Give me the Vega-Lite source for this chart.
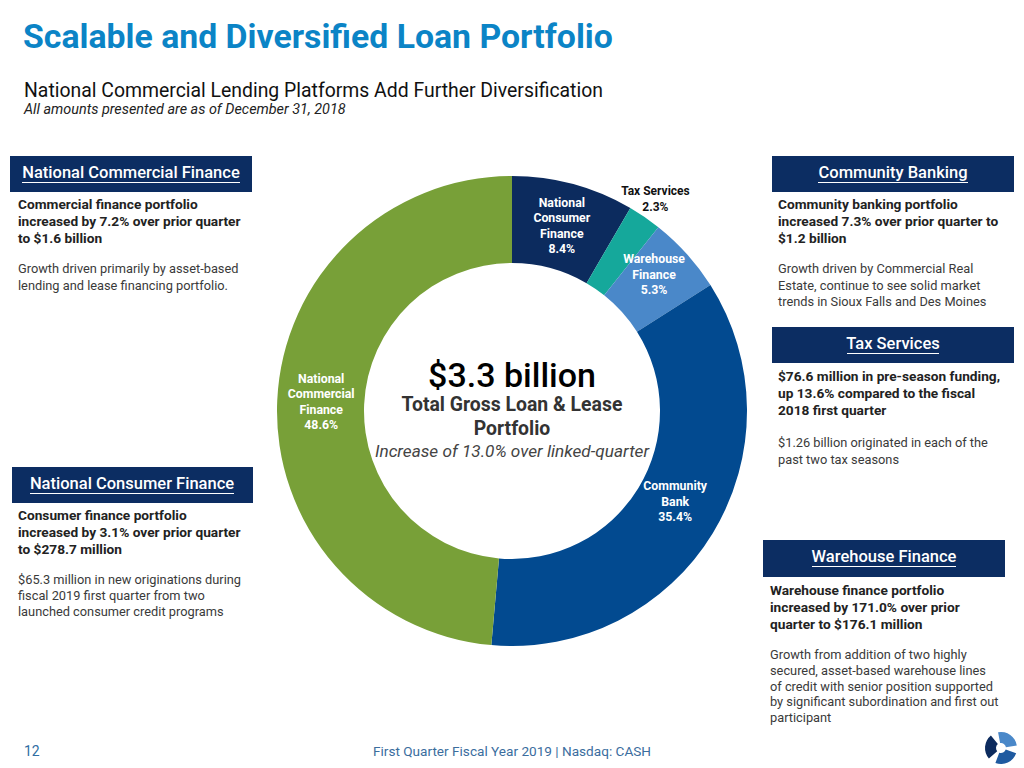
{
  "$schema": "https://vega.github.io/schema/vega-lite/v6.json",
  "width": 1024,
  "height": 768,
  "autosize": {"type": "fit", "contains": "padding"},
  "padding": 0,
  "background": "#ffffff",
  "config": {"font": "Roboto", "view": {"stroke": null}},
  "datasets": {
    "portfolio": [
      {"rank": 1, "segment": "National Consumer Finance", "pct": 8.4, "label": "National\nConsumer\nFinance\n8.4%"},
      {"rank": 2, "segment": "Tax Services", "pct": 2.3, "label": "Tax Services\n2.3%"},
      {"rank": 3, "segment": "Warehouse Finance", "pct": 5.3, "label": "Warehouse\nFinance\n5.3%"},
      {"rank": 4, "segment": "Community Bank", "pct": 35.4, "label": "Community\nBank\n35.4%"},
      {"rank": 5, "segment": "National Commercial Finance", "pct": 48.6, "label": "National\nCommercial\nFinance\n48.6%"}
    ],
    "one": [{}]
  },
  "layer": [
    {"data": {"name": "portfolio"},
     "mark": {"type": "arc", "radius": 235, "radius2": 148, "stroke": null},
     "encoding": {
       "x": {"datum": 512, "type": "quantitative", "scale": {"domain": [0, 1024], "nice": false, "zero": false}, "axis": null},
       "y": {"datum": 411, "type": "quantitative", "scale": {"domain": [0, 768], "nice": false, "zero": false, "reverse": true}, "axis": null},
       "theta": {"field": "pct", "type": "quantitative", "stack": true},
       "order": {"field": "rank", "type": "quantitative"},
       "color": {"field": "segment", "type": "nominal", "legend": null,
         "scale": {"domain": ["National Consumer Finance", "Tax Services", "Warehouse Finance", "Community Bank", "National Commercial Finance"],
                   "range": ["#0c2b5e", "#15a89b", "#4a88c9", "#024a90", "#78a038"]}}}},
    {"data": {"name": "portfolio"},
     "mark": {"type": "text", "radius": 191, "dy": -24, "lineBreak": "\n", "lineHeight": 15.5, "fontSize": 12.3, "fontWeight": "bold", "fill": "#ffffff", "align": "center", "baseline": "middle"},
     "encoding": {
       "x": {"datum": 512, "type": "quantitative", "scale": {"domain": [0, 1024], "nice": false, "zero": false}, "axis": null},
       "y": {"datum": 411, "type": "quantitative", "scale": {"domain": [0, 768], "nice": false, "zero": false, "reverse": true}, "axis": null},
       "theta": {"field": "pct", "type": "quantitative", "stack": true},
       "order": {"field": "rank", "type": "quantitative"},
       "text": {"condition": {"test": "datum.segment === 'Tax Services'", "value": ""}, "field": "label"}}},
    {"data": {"name": "portfolio"},
     "mark": {"type": "text", "radius": 254, "dy": -10, "lineBreak": "\n", "lineHeight": 15.5, "fontSize": 12, "fontWeight": "bold", "fill": "#111111", "align": "center", "baseline": "middle"},
     "encoding": {
       "x": {"datum": 512, "type": "quantitative", "scale": {"domain": [0, 1024], "nice": false, "zero": false}, "axis": null},
       "y": {"datum": 411, "type": "quantitative", "scale": {"domain": [0, 768], "nice": false, "zero": false, "reverse": true}, "axis": null},
       "theta": {"field": "pct", "type": "quantitative", "stack": true},
       "order": {"field": "rank", "type": "quantitative"},
       "text": {"condition": {"test": "datum.segment !== 'Tax Services'", "value": ""}, "field": "label"}}},

    {"data": {"name": "one"},
     "mark": {"type": "text", "text": "$3.3 billion", "fontSize": 34, "fontWeight": 500, "fill": "#000000", "align": "center", "baseline": "middle"},
     "encoding": {
       "x": {"datum": 512, "type": "quantitative", "scale": {"domain": [0, 1024], "nice": false, "zero": false}, "axis": null},
       "y": {"datum": 377, "type": "quantitative", "scale": {"domain": [0, 768], "nice": false, "zero": false, "reverse": true}, "axis": null}}},
    {"data": {"name": "one"},
     "mark": {"type": "text", "text": ["Total Gross Loan & Lease", "Portfolio"], "lineHeight": 24, "fontSize": 19.4, "fontWeight": "bold", "fill": "#333333", "align": "center", "baseline": "middle"},
     "encoding": {
       "x": {"datum": 512, "type": "quantitative", "scale": {"domain": [0, 1024], "nice": false, "zero": false}, "axis": null},
       "y": {"datum": 405, "type": "quantitative", "scale": {"domain": [0, 768], "nice": false, "zero": false, "reverse": true}, "axis": null}}},
    {"data": {"name": "one"},
     "mark": {"type": "text", "text": "Increase of 13.0% over linked-quarter", "fontSize": 17.2, "fontStyle": "italic", "fill": "#444444", "align": "center", "baseline": "middle"},
     "encoding": {
       "x": {"datum": 512, "type": "quantitative", "scale": {"domain": [0, 1024], "nice": false, "zero": false}, "axis": null},
       "y": {"datum": 452, "type": "quantitative", "scale": {"domain": [0, 768], "nice": false, "zero": false, "reverse": true}, "axis": null}}},

    {"data": {"name": "one"},
     "mark": {"type": "text", "text": "Scalable and Diversified Loan Portfolio", "fontSize": 33.8, "fontWeight": "bold", "fill": "#0b84c6", "align": "left", "baseline": "middle"},
     "encoding": {
       "x": {"datum": 23, "type": "quantitative", "scale": {"domain": [0, 1024], "nice": false, "zero": false}, "axis": null},
       "y": {"datum": 38, "type": "quantitative", "scale": {"domain": [0, 768], "nice": false, "zero": false, "reverse": true}, "axis": null}}},
    {"data": {"name": "one"},
     "mark": {"type": "text", "text": "National Commercial Lending Platforms Add Further Diversification", "fontSize": 19.4, "fill": "#111111", "align": "left", "baseline": "middle"},
     "encoding": {
       "x": {"datum": 24, "type": "quantitative", "scale": {"domain": [0, 1024], "nice": false, "zero": false}, "axis": null},
       "y": {"datum": 91, "type": "quantitative", "scale": {"domain": [0, 768], "nice": false, "zero": false, "reverse": true}, "axis": null}}},
    {"data": {"name": "one"},
     "mark": {"type": "text", "text": "All amounts presented are as of December 31, 2018", "fontSize": 14.4, "fontStyle": "italic", "fill": "#222222", "align": "left", "baseline": "middle"},
     "encoding": {
       "x": {"datum": 24, "type": "quantitative", "scale": {"domain": [0, 1024], "nice": false, "zero": false}, "axis": null},
       "y": {"datum": 110, "type": "quantitative", "scale": {"domain": [0, 768], "nice": false, "zero": false, "reverse": true}, "axis": null}}},

    {"data": {"name": "one"}, "mark": {"type": "rect", "fill": "#0c2d62"},
     "encoding": {
       "x": {"datum": 10, "type": "quantitative", "scale": {"domain": [0, 1024], "nice": false, "zero": false}, "axis": null}, "x2": {"datum": 252},
       "y": {"datum": 156, "type": "quantitative", "scale": {"domain": [0, 768], "nice": false, "zero": false, "reverse": true}, "axis": null}, "y2": {"datum": 192}}},
    {"data": {"name": "one"}, "mark": {"type": "rect", "fill": "#0c2d62"},
     "encoding": {
       "x": {"datum": 772, "type": "quantitative", "scale": {"domain": [0, 1024], "nice": false, "zero": false}, "axis": null}, "x2": {"datum": 1014},
       "y": {"datum": 156, "type": "quantitative", "scale": {"domain": [0, 768], "nice": false, "zero": false, "reverse": true}, "axis": null}, "y2": {"datum": 192}}},
    {"data": {"name": "one"}, "mark": {"type": "rect", "fill": "#0c2d62"},
     "encoding": {
       "x": {"datum": 772, "type": "quantitative", "scale": {"domain": [0, 1024], "nice": false, "zero": false}, "axis": null}, "x2": {"datum": 1014},
       "y": {"datum": 327, "type": "quantitative", "scale": {"domain": [0, 768], "nice": false, "zero": false, "reverse": true}, "axis": null}, "y2": {"datum": 363}}},
    {"data": {"name": "one"}, "mark": {"type": "rect", "fill": "#0c2d62"},
     "encoding": {
       "x": {"datum": 12, "type": "quantitative", "scale": {"domain": [0, 1024], "nice": false, "zero": false}, "axis": null}, "x2": {"datum": 253},
       "y": {"datum": 467, "type": "quantitative", "scale": {"domain": [0, 768], "nice": false, "zero": false, "reverse": true}, "axis": null}, "y2": {"datum": 503}}},
    {"data": {"name": "one"}, "mark": {"type": "rect", "fill": "#0c2d62"},
     "encoding": {
       "x": {"datum": 763, "type": "quantitative", "scale": {"domain": [0, 1024], "nice": false, "zero": false}, "axis": null}, "x2": {"datum": 1005},
       "y": {"datum": 540, "type": "quantitative", "scale": {"domain": [0, 768], "nice": false, "zero": false, "reverse": true}, "axis": null}, "y2": {"datum": 577}}},

    {"data": {"name": "one"}, "mark": {"type": "text", "text": "National Commercial Finance", "fontSize": 16.5, "fontWeight": 500, "fill": "#ffffff", "align": "center", "baseline": "middle"},
     "encoding": {
       "x": {"datum": 131, "type": "quantitative", "scale": {"domain": [0, 1024], "nice": false, "zero": false}, "axis": null},
       "y": {"datum": 173, "type": "quantitative", "scale": {"domain": [0, 768], "nice": false, "zero": false, "reverse": true}, "axis": null}}},
    {"data": {"name": "one"}, "mark": {"type": "text", "text": "Community Banking", "fontSize": 16.5, "fontWeight": 500, "fill": "#ffffff", "align": "center", "baseline": "middle"},
     "encoding": {
       "x": {"datum": 893, "type": "quantitative", "scale": {"domain": [0, 1024], "nice": false, "zero": false}, "axis": null},
       "y": {"datum": 173, "type": "quantitative", "scale": {"domain": [0, 768], "nice": false, "zero": false, "reverse": true}, "axis": null}}},
    {"data": {"name": "one"}, "mark": {"type": "text", "text": "Tax Services", "fontSize": 16.5, "fontWeight": 500, "fill": "#ffffff", "align": "center", "baseline": "middle"},
     "encoding": {
       "x": {"datum": 893, "type": "quantitative", "scale": {"domain": [0, 1024], "nice": false, "zero": false}, "axis": null},
       "y": {"datum": 344, "type": "quantitative", "scale": {"domain": [0, 768], "nice": false, "zero": false, "reverse": true}, "axis": null}}},
    {"data": {"name": "one"}, "mark": {"type": "text", "text": "National Consumer Finance", "fontSize": 16.5, "fontWeight": 500, "fill": "#ffffff", "align": "center", "baseline": "middle"},
     "encoding": {
       "x": {"datum": 132, "type": "quantitative", "scale": {"domain": [0, 1024], "nice": false, "zero": false}, "axis": null},
       "y": {"datum": 484, "type": "quantitative", "scale": {"domain": [0, 768], "nice": false, "zero": false, "reverse": true}, "axis": null}}},
    {"data": {"name": "one"}, "mark": {"type": "text", "text": "Warehouse Finance", "fontSize": 16.5, "fontWeight": 500, "fill": "#ffffff", "align": "center", "baseline": "middle"},
     "encoding": {
       "x": {"datum": 884, "type": "quantitative", "scale": {"domain": [0, 1024], "nice": false, "zero": false}, "axis": null},
       "y": {"datum": 557, "type": "quantitative", "scale": {"domain": [0, 768], "nice": false, "zero": false, "reverse": true}, "axis": null}}},

    {"data": {"name": "one"}, "mark": {"type": "rule", "stroke": "#ffffff", "strokeWidth": 1},
     "encoding": {
       "x": {"datum": 22, "type": "quantitative", "scale": {"domain": [0, 1024], "nice": false, "zero": false}, "axis": null}, "x2": {"datum": 240},
       "y": {"datum": 182.5, "type": "quantitative", "scale": {"domain": [0, 768], "nice": false, "zero": false, "reverse": true}, "axis": null}}},
    {"data": {"name": "one"}, "mark": {"type": "rule", "stroke": "#ffffff", "strokeWidth": 1},
     "encoding": {
       "x": {"datum": 818, "type": "quantitative", "scale": {"domain": [0, 1024], "nice": false, "zero": false}, "axis": null}, "x2": {"datum": 968},
       "y": {"datum": 182.5, "type": "quantitative", "scale": {"domain": [0, 768], "nice": false, "zero": false, "reverse": true}, "axis": null}}},
    {"data": {"name": "one"}, "mark": {"type": "rule", "stroke": "#ffffff", "strokeWidth": 1},
     "encoding": {
       "x": {"datum": 847, "type": "quantitative", "scale": {"domain": [0, 1024], "nice": false, "zero": false}, "axis": null}, "x2": {"datum": 939},
       "y": {"datum": 353.5, "type": "quantitative", "scale": {"domain": [0, 768], "nice": false, "zero": false, "reverse": true}, "axis": null}}},
    {"data": {"name": "one"}, "mark": {"type": "rule", "stroke": "#ffffff", "strokeWidth": 1},
     "encoding": {
       "x": {"datum": 30, "type": "quantitative", "scale": {"domain": [0, 1024], "nice": false, "zero": false}, "axis": null}, "x2": {"datum": 234},
       "y": {"datum": 493.5, "type": "quantitative", "scale": {"domain": [0, 768], "nice": false, "zero": false, "reverse": true}, "axis": null}}},
    {"data": {"name": "one"}, "mark": {"type": "rule", "stroke": "#ffffff", "strokeWidth": 1},
     "encoding": {
       "x": {"datum": 812, "type": "quantitative", "scale": {"domain": [0, 1024], "nice": false, "zero": false}, "axis": null}, "x2": {"datum": 956},
       "y": {"datum": 566.5, "type": "quantitative", "scale": {"domain": [0, 768], "nice": false, "zero": false, "reverse": true}, "axis": null}}},

    {"data": {"name": "one"}, "mark": {"type": "text", "text": ["Commercial finance portfolio", "increased by 7.2% over prior quarter", "to $1.6 billion"], "lineHeight": 17, "fontSize": 13.7, "fontWeight": "bold", "fill": "#222222", "align": "left", "baseline": "middle"},
     "encoding": {
       "x": {"datum": 18, "type": "quantitative", "scale": {"domain": [0, 1024], "nice": false, "zero": false}, "axis": null},
       "y": {"datum": 205, "type": "quantitative", "scale": {"domain": [0, 768], "nice": false, "zero": false, "reverse": true}, "axis": null}}},
    {"data": {"name": "one"}, "mark": {"type": "text", "text": ["Growth driven primarily by asset-based", "lending and lease financing portfolio."], "lineHeight": 17, "fontSize": 12.8, "fill": "#3a3a3a", "align": "left", "baseline": "middle"},
     "encoding": {
       "x": {"datum": 18, "type": "quantitative", "scale": {"domain": [0, 1024], "nice": false, "zero": false}, "axis": null},
       "y": {"datum": 269, "type": "quantitative", "scale": {"domain": [0, 768], "nice": false, "zero": false, "reverse": true}, "axis": null}}},
    {"data": {"name": "one"}, "mark": {"type": "text", "text": ["Community banking portfolio", "increased 7.3% over prior quarter to", "$1.2 billion"], "lineHeight": 17, "fontSize": 13.7, "fontWeight": "bold", "fill": "#222222", "align": "left", "baseline": "middle"},
     "encoding": {
       "x": {"datum": 778, "type": "quantitative", "scale": {"domain": [0, 1024], "nice": false, "zero": false}, "axis": null},
       "y": {"datum": 205, "type": "quantitative", "scale": {"domain": [0, 768], "nice": false, "zero": false, "reverse": true}, "axis": null}}},
    {"data": {"name": "one"}, "mark": {"type": "text", "text": ["Growth driven by Commercial Real", "Estate, continue to see solid market", "trends in Sioux Falls and Des Moines"], "lineHeight": 16.5, "fontSize": 12.8, "fill": "#3a3a3a", "align": "left", "baseline": "middle"},
     "encoding": {
       "x": {"datum": 778, "type": "quantitative", "scale": {"domain": [0, 1024], "nice": false, "zero": false}, "axis": null},
       "y": {"datum": 269, "type": "quantitative", "scale": {"domain": [0, 768], "nice": false, "zero": false, "reverse": true}, "axis": null}}},
    {"data": {"name": "one"}, "mark": {"type": "text", "text": ["$76.6 million in pre-season funding,", "up 13.6% compared to the fiscal", "2018 first quarter"], "lineHeight": 17, "fontSize": 13.7, "fontWeight": "bold", "fill": "#222222", "align": "left", "baseline": "middle"},
     "encoding": {
       "x": {"datum": 778, "type": "quantitative", "scale": {"domain": [0, 1024], "nice": false, "zero": false}, "axis": null},
       "y": {"datum": 377, "type": "quantitative", "scale": {"domain": [0, 768], "nice": false, "zero": false, "reverse": true}, "axis": null}}},
    {"data": {"name": "one"}, "mark": {"type": "text", "text": ["$1.26 billion originated in each of the", "past two tax seasons"], "lineHeight": 16.5, "fontSize": 12.8, "fill": "#3a3a3a", "align": "left", "baseline": "middle"},
     "encoding": {
       "x": {"datum": 778, "type": "quantitative", "scale": {"domain": [0, 1024], "nice": false, "zero": false}, "axis": null},
       "y": {"datum": 443, "type": "quantitative", "scale": {"domain": [0, 768], "nice": false, "zero": false, "reverse": true}, "axis": null}}},
    {"data": {"name": "one"}, "mark": {"type": "text", "text": ["Consumer finance portfolio", "increased by 3.1% over prior quarter", "to $278.7 million"], "lineHeight": 17, "fontSize": 13.7, "fontWeight": "bold", "fill": "#222222", "align": "left", "baseline": "middle"},
     "encoding": {
       "x": {"datum": 18, "type": "quantitative", "scale": {"domain": [0, 1024], "nice": false, "zero": false}, "axis": null},
       "y": {"datum": 516, "type": "quantitative", "scale": {"domain": [0, 768], "nice": false, "zero": false, "reverse": true}, "axis": null}}},
    {"data": {"name": "one"}, "mark": {"type": "text", "text": ["$65.3 million in new originations during", "fiscal 2019 first quarter from two", "launched consumer credit programs"], "lineHeight": 16, "fontSize": 12.8, "fill": "#3a3a3a", "align": "left", "baseline": "middle"},
     "encoding": {
       "x": {"datum": 18, "type": "quantitative", "scale": {"domain": [0, 1024], "nice": false, "zero": false}, "axis": null},
       "y": {"datum": 580, "type": "quantitative", "scale": {"domain": [0, 768], "nice": false, "zero": false, "reverse": true}, "axis": null}}},
    {"data": {"name": "one"}, "mark": {"type": "text", "text": ["Warehouse finance portfolio", "increased by 171.0% over prior", "quarter to $176.1 million"], "lineHeight": 17, "fontSize": 13.7, "fontWeight": "bold", "fill": "#222222", "align": "left", "baseline": "middle"},
     "encoding": {
       "x": {"datum": 770, "type": "quantitative", "scale": {"domain": [0, 1024], "nice": false, "zero": false}, "axis": null},
       "y": {"datum": 591, "type": "quantitative", "scale": {"domain": [0, 768], "nice": false, "zero": false, "reverse": true}, "axis": null}}},
    {"data": {"name": "one"}, "mark": {"type": "text", "text": ["Growth from addition of two highly", "secured, asset-based warehouse lines", "of credit with senior position supported", "by significant subordination and first out", "participant"], "lineHeight": 15.8, "fontSize": 12.8, "fill": "#3a3a3a", "align": "left", "baseline": "middle"},
     "encoding": {
       "x": {"datum": 770, "type": "quantitative", "scale": {"domain": [0, 1024], "nice": false, "zero": false}, "axis": null},
       "y": {"datum": 655, "type": "quantitative", "scale": {"domain": [0, 768], "nice": false, "zero": false, "reverse": true}, "axis": null}}},

    {"data": {"name": "one"}, "mark": {"type": "text", "text": "12", "fontSize": 14, "fill": "#2f6ea3", "align": "left", "baseline": "middle"},
     "encoding": {
       "x": {"datum": 24, "type": "quantitative", "scale": {"domain": [0, 1024], "nice": false, "zero": false}, "axis": null},
       "y": {"datum": 752, "type": "quantitative", "scale": {"domain": [0, 768], "nice": false, "zero": false, "reverse": true}, "axis": null}}},
    {"data": {"name": "one"}, "mark": {"type": "text", "text": "First Quarter Fiscal Year 2019 | Nasdaq: CASH", "fontSize": 13.6, "fill": "#3b6d9e", "align": "center", "baseline": "middle"},
     "encoding": {
       "x": {"datum": 512, "type": "quantitative", "scale": {"domain": [0, 1024], "nice": false, "zero": false}, "axis": null},
       "y": {"datum": 752, "type": "quantitative", "scale": {"domain": [0, 768], "nice": false, "zero": false, "reverse": true}, "axis": null}}},

    {"data": {"name": "one"}, "mark": {"type": "arc", "radius": 16, "radius2": 5, "theta": 4.0, "theta2": 5.6, "fill": "#0c2b5e"},
     "encoding": {
       "x": {"datum": 1001, "type": "quantitative", "scale": {"domain": [0, 1024], "nice": false, "zero": false}, "axis": null},
       "y": {"datum": 748, "type": "quantitative", "scale": {"domain": [0, 768], "nice": false, "zero": false, "reverse": true}, "axis": null}}},
    {"data": {"name": "one"}, "mark": {"type": "arc", "radius": 16, "radius2": 5, "theta": 6.1, "theta2": 7.7, "fill": "#4a88c9"},
     "encoding": {
       "x": {"datum": 1001, "type": "quantitative", "scale": {"domain": [0, 1024], "nice": false, "zero": false}, "axis": null},
       "y": {"datum": 748, "type": "quantitative", "scale": {"domain": [0, 768], "nice": false, "zero": false, "reverse": true}, "axis": null}}},
    {"data": {"name": "one"}, "mark": {"type": "arc", "radius": 16, "radius2": 5, "theta": 1.9, "theta2": 3.5, "fill": "#1f5aa0"},
     "encoding": {
       "x": {"datum": 1001, "type": "quantitative", "scale": {"domain": [0, 1024], "nice": false, "zero": false}, "axis": null},
       "y": {"datum": 748, "type": "quantitative", "scale": {"domain": [0, 768], "nice": false, "zero": false, "reverse": true}, "axis": null}}}
  ]
}
